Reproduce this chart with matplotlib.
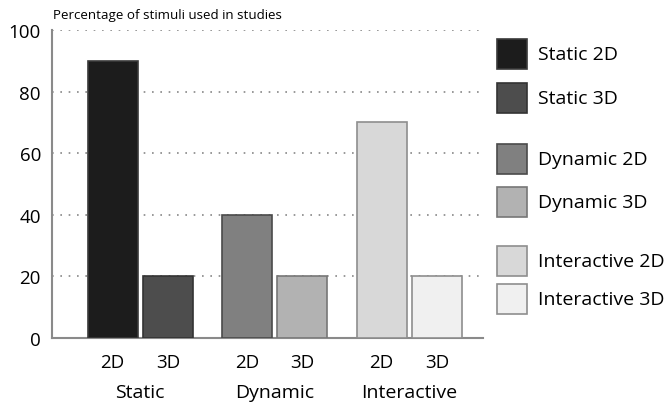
import matplotlib.pyplot as plt
from matplotlib.patches import Rectangle

plt.rcParams['font.family'] = ['Open Sans', 'DejaVu Sans']

groups = ['Static', 'Dynamic', 'Interactive']
dims = ['2D', '3D']
values_2d = [90, 40, 70]
values_3d = [20, 20, 20]
colors_2d = ['#1c1c1c', '#808080', '#d8d8d8']
colors_3d = ['#4d4d4d', '#b2b2b2', '#f0f0f0']
edges_2d = ['#3a3a3a', '#4a4a4a', '#8e8e8e']
edges_3d = ['#333333', '#777777', '#8e8e8e']
legend_labels = ['Static 2D', 'Static 3D', 'Dynamic 2D', 'Dynamic 3D',
                 'Interactive 2D', 'Interactive 3D']
legend_colors = ['#1c1c1c', '#4d4d4d', '#808080', '#b2b2b2', '#d8d8d8', '#f0f0f0']
legend_edges = ['#3a3a3a', '#333333', '#4a4a4a', '#777777', '#8e8e8e', '#8e8e8e']
legend_y = [55, 99, 160, 203, 262, 300]  # pixel rows from top

W, H = 666, 406
fig = plt.figure(figsize=(W / 100, H / 100), dpi=100)
ax = fig.add_axes([52 / W, 1 - 339 / H, (483 - 52) / W, (339 - 31) / H])

off, bw = 0.205, 0.37
xs = range(len(groups))
for i in xs:
    ax.bar(i - off, values_2d[i], bw, color=colors_2d[i], edgecolor=edges_2d[i],
           linewidth=1.2, zorder=3)
    ax.bar(i + off, values_3d[i], bw, color=colors_3d[i], edgecolor=edges_3d[i],
           linewidth=1.2, zorder=3)

ax.set_xlim(-0.656, 2.548)
ax.set_ylim(0, 100)
ax.set_yticks([0, 20, 40, 60, 80, 100])
ax.tick_params(axis='y', length=0, labelsize=13.5, pad=8)
ax.set_xticks([i + s * off for i in xs for s in (-1, 1)])
ax.set_xticklabels(dims * len(groups))
ax.tick_params(axis='x', length=0, labelsize=13.5, pad=11)
for g, name in enumerate(groups):
    ax.text(g, -17.5, name, ha='center', va='center', fontsize=14,
            transform=ax.transData, clip_on=False)

for y in [20, 40, 60, 80, 100]:
    ax.axhline(y, color='#888888', linestyle=(0, (1, 4)), linewidth=1.2, zorder=1)

for s in ['top', 'right']:
    ax.spines[s].set_visible(False)
for s in ['left', 'bottom']:
    ax.spines[s].set_color('#8a8a8a')
    ax.spines[s].set_linewidth(1.5)

fig.text(53 / W, 1 - 16 / H, 'Percentage of stimuli used in studies',
         fontsize=9.6, ha='left', va='center')

# legend
for lab, c, e, yp in zip(legend_labels, legend_colors, legend_edges, legend_y):
    fig.patches.append(Rectangle((497 / W, 1 - (yp + 15) / H), 30 / W, 30 / H,
                                 transform=fig.transFigure, facecolor=c,
                                 edgecolor=e, linewidth=1.2))
    fig.text(538 / W, 1 - yp / H, lab, fontsize=14, ha='left', va='center')

fig.savefig('out.png', dpi=100)
